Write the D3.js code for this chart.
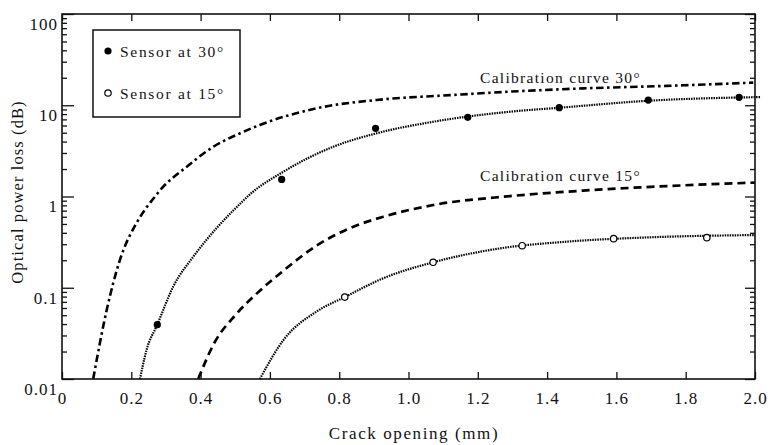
<!DOCTYPE html>
<html>
<head>
<meta charset="utf-8">
<script src="https://cdn.jsdelivr.net/npm/d3@7"></script>
<style>
body { margin: 0; background: #fff; }
text { font-family: "Liberation Serif", "Times New Roman", serif; fill: #111; }
</style>
</head>
<body>
<div id="chart"></div>
<script>
// tick values / labels
var xTicks = [0, 0.2, 0.4, 0.6, 0.8, 1.0, 1.2, 1.4, 1.6, 1.8, 2.0];
var xTickLabels = ["0", "0.2", "0.4", "0.6", "0.8", "1.0", "1.2", "1.4", "1.6", "1.8", "2.0"];
var yTicks = [0.01, 0.1, 1, 10, 100];
var yTickLabels = ["0.01", "0.1", "1", "10", "100"];

// measured points
var sensor30X = [0.275, 0.634, 0.905, 1.171, 1.435, 1.692, 1.954];
var sensor30Y = [0.0394, 1.54, 5.59, 7.38, 9.4, 11.4, 12.2];
var sensor15X = [0.816, 1.071, 1.328, 1.592, 1.861];
var sensor15Y = [0.079, 0.19, 0.289, 0.345, 0.354];

// calibration curve 30 (dash-dot)
var cal30X = [0.090, 0.129, 0.167, 0.216, 0.244, 0.264, 0.283, 0.36, 0.437, 0.514, 0.571, 0.735, 0.927, 1.12, 1.293, 1.504, 1.745, 1.995];
var cal30Y = [0.01, 0.057, 0.201, 0.52, 0.76, 0.95, 1.17, 2.12, 3.51, 4.93, 6.08, 9.26, 11.6, 12.9, 14.1, 15.3, 16.3, 17.7];
// fit through sensor 30 (dotted)
var fit30X = [0.225, 0.244, 0.275, 0.321, 0.379, 0.446, 0.494, 0.519, 0.543, 0.639, 0.783, 0.908, 1.072, 1.293, 1.437, 1.692, 2.015];
var fit30Y = [0.01, 0.0208, 0.0394, 0.103, 0.219, 0.45, 0.70, 0.87, 1.06, 1.87, 3.51, 4.93, 6.6, 8.5, 9.4, 11.2, 12.3];
// calibration curve 15 (dashed)
var cal15X = [0.393, 0.44, 0.50, 0.56, 0.64, 0.735, 0.831, 0.927, 1.072, 1.293, 1.504, 1.745, 2.0];
var cal15Y = [0.01, 0.025, 0.05, 0.085, 0.155, 0.29, 0.45, 0.60, 0.807, 1.01, 1.16, 1.30, 1.42];
// fit through sensor 15 (dotted)
var fit15X = [0.571, 0.639, 0.735, 0.816, 0.927, 1.071, 1.264, 1.457, 1.697, 2.0];
var fit15Y = [0.01, 0.0267, 0.055, 0.079, 0.127, 0.19, 0.27, 0.32, 0.357, 0.378];

var W = 778, H = 445;
var margin = {top: 14, right: 23, bottom: 66, left: 62};
var width = W - margin.left - margin.right,
    height = H - margin.top - margin.bottom;

var svg = d3.select('#chart').append('svg')
    .attr('width', W)
    .attr('height', H);

var g = svg.append('g')
    .attr('transform', 'translate(' + margin.left + ',' + margin.top + ')');

var xScale = d3.scaleLinear().domain([0, 2]).range([0, width]);
var yScale = d3.scaleLog().domain([0.01, 100]).range([height, 0]);

var zip = function (xs, ys) { return xs.map(function (v, i) { return [v, ys[i]]; }); };

var line = d3.line()
    .x(function (d) { return xScale(d[0]); })
    .y(function (d) { return yScale(d[1]); })
    .curve(d3.curveMonotoneX);

// curves
g.append('path').attr('d', line(zip(cal30X, cal30Y)))
    .attr('fill', 'none').attr('stroke', '#000').attr('stroke-width', 2.6)
    .attr('stroke-dasharray', '7.5,3.5,2.5,3.5');
g.append('path').attr('d', line(zip(fit30X, fit30Y)))
    .attr('fill', 'none').attr('stroke', '#000').attr('stroke-width', 2.2)
    .attr('stroke-dasharray', '1.5,1');
g.append('path').attr('d', line(zip(cal15X, cal15Y)))
    .attr('fill', 'none').attr('stroke', '#000').attr('stroke-width', 2.7)
    .attr('stroke-dasharray', '8,5');
g.append('path').attr('d', line(zip(fit15X, fit15Y)))
    .attr('fill', 'none').attr('stroke', '#000').attr('stroke-width', 2.2)
    .attr('stroke-dasharray', '1.5,1');

// points
g.selectAll('.p30').data(zip(sensor30X, sensor30Y)).enter().append('circle')
    .attr('cx', function (d) { return xScale(d[0]); })
    .attr('cy', function (d) { return yScale(d[1]); })
    .attr('r', 3.6).attr('fill', '#000');
g.selectAll('.p15').data(zip(sensor15X, sensor15Y)).enter().append('circle')
    .attr('cx', function (d) { return xScale(d[0]); })
    .attr('cy', function (d) { return yScale(d[1]); })
    .attr('r', 3.2).attr('fill', '#fff').attr('stroke', '#000').attr('stroke-width', 1.2);

// axes (ticks pointing inward)
var minorY = yScale.ticks().filter(function (v) { return yTicks.indexOf(v) < 0; });

var axBottom = g.append('g').attr('transform', 'translate(0,' + height + ')')
    .call(d3.axisBottom(xScale).tickValues(xTicks).tickSize(-7).tickSizeOuter(0)
        .tickFormat(function (d, i) { return xTickLabels[i]; }).tickPadding(13));
var axTop = g.append('g')
    .call(d3.axisTop(xScale).tickValues(xTicks).tickSize(-7).tickSizeOuter(0).tickFormat(''));
var axLeft = g.append('g')
    .call(d3.axisLeft(yScale).tickValues(yTicks).tickSize(-12).tickSizeOuter(0)
        .tickFormat(function (d, i) { return yTickLabels[i]; }).tickPadding(4));
var axLeftMinor = g.append('g')
    .call(d3.axisLeft(yScale).tickValues(minorY).tickSize(-5).tickSizeOuter(0).tickFormat(''));
var axRight = g.append('g').attr('transform', 'translate(' + width + ',0)')
    .call(d3.axisRight(yScale).tickValues(yTicks).tickSize(-10).tickSizeOuter(0).tickFormat(''));
var axRightMinor = g.append('g').attr('transform', 'translate(' + width + ',0)')
    .call(d3.axisRight(yScale).tickValues(minorY).tickSize(-5).tickSizeOuter(0).tickFormat(''));

[axBottom, axTop, axLeft, axLeftMinor, axRight, axRightMinor].forEach(function (a) {
    a.selectAll('.domain').remove();
    a.selectAll('line').attr('stroke', '#111').attr('stroke-width', 1.3);
});
axBottom.selectAll('text').attr('font-size', 17).attr('letter-spacing', 1)
    .attr('font-family', '"Liberation Serif", serif').attr('fill', '#111');
axLeft.selectAll('text').attr('font-size', 17).attr('letter-spacing', 1)
    .attr('font-family', '"Liberation Serif", serif').attr('fill', '#111')
    .attr('dy', '0.9em');

// frame
g.append('rect').attr('width', width).attr('height', height)
    .attr('fill', 'none').attr('stroke', '#111').attr('stroke-width', 1.6);

// legend
var legend = svg.append('g');
legend.append('rect').attr('x', 93).attr('y', 30).attr('width', 147).attr('height', 87)
    .attr('fill', '#fff').attr('stroke', '#111').attr('stroke-width', 1.5);
legend.append('circle').attr('cx', 108).attr('cy', 51).attr('r', 3.6).attr('fill', '#000');
legend.append('circle').attr('cx', 108).attr('cy', 93).attr('r', 3.2)
    .attr('fill', '#fff').attr('stroke', '#000').attr('stroke-width', 1.2);
legend.append('text').attr('x', 120).attr('y', 57).attr('font-size', 15.5)
    .attr('letter-spacing', 1.7).text('Sensor at 30°');
legend.append('text').attr('x', 120).attr('y', 99).attr('font-size', 15.5)
    .attr('letter-spacing', 1.7).text('Sensor at 15°');

// curve labels
svg.append('text').attr('x', 480).attr('y', 83).attr('font-size', 15.5)
    .attr('letter-spacing', 1.3).text('Calibration curve 30°');
svg.append('text').attr('x', 480).attr('y', 181).attr('font-size', 15.5)
    .attr('letter-spacing', 1.3).text('Calibration curve 15°');

// axis titles
svg.append('text').attr('x', 414).attr('y', 439)
    .attr('text-anchor', 'middle').attr('font-size', 17).attr('letter-spacing', 1.6)
    .text('Crack opening (mm)');
svg.append('text')
    .attr('transform', 'translate(23,192) rotate(-90)')
    .attr('text-anchor', 'middle').attr('font-size', 16.5).attr('letter-spacing', 1.1)
    .text('Optical power loss (dB)');
</script>
</body>
</html>
